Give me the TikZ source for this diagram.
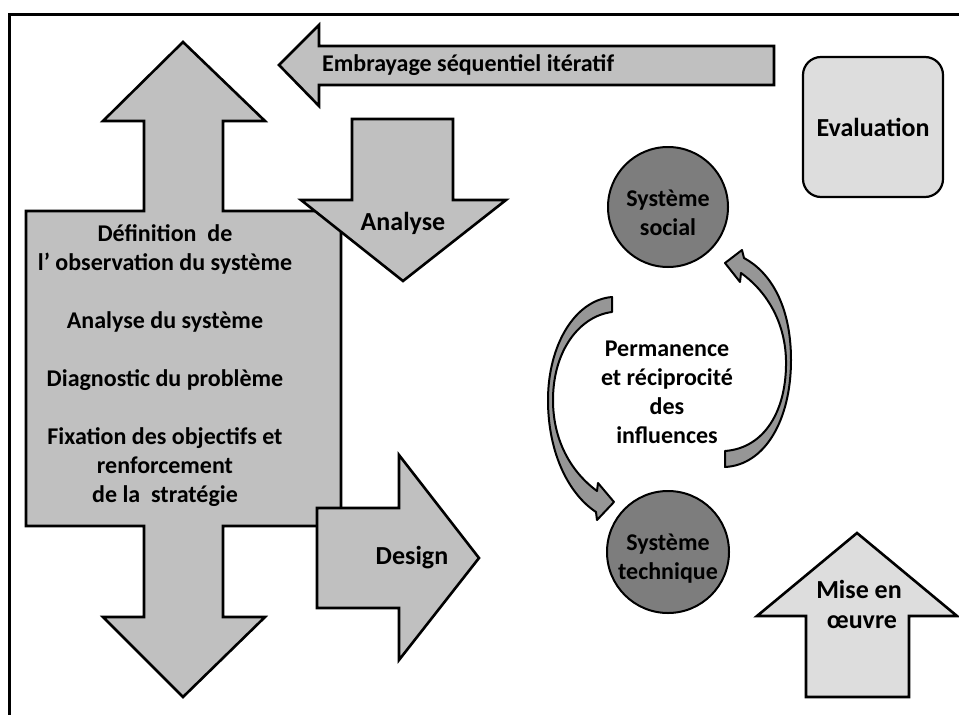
\documentclass[tikz,border=0pt]{standalone}
\usepackage{fontspec}
\setmainfont{Carlito}
\definecolor{midgray}{RGB}{192,192,192}
\definecolor{lightgray2}{RGB}{221,221,221}
\definecolor{darkgray2}{RGB}{125,125,125}
\definecolor{curvegray}{RGB}{150,150,150}
\tikzset{
  shp/.style={draw=black, line width=2.6pt, line join=miter, fill=midgray},
  lightshp/.style={shp, fill=lightgray2},
  circshp/.style={draw=black, line width=2pt, fill=darkgray2},
  curveshp/.style={draw=black, line width=2pt, line join=round, fill=curvegray},
  lbl/.style={font=\bfseries\fontsize{24}{29}\selectfont, align=center, inner sep=0pt, text=black},
  biglbl/.style={lbl, font=\bfseries\fontsize{26}{30}\selectfont},
}
\begin{document}
\begin{tikzpicture}[x=1pt,y=-1pt]
\useasboundingbox (0,0) rectangle (959,715);
\fill[white] (0,0) rectangle (959,715);
% frame (only top and left visible)
\draw[line width=3pt] (9.5,715) -- (9.5,14) -- (959,14);

% big vertical double arrow with box
\draw[shp] (183,42) -- (265,121) -- (223,121) -- (223,211) -- (341,211) -- (341,526)
  -- (223,526) -- (223,617) -- (265,617) -- (183,697) -- (103,617) -- (144,617)
  -- (144,526) -- (26,526) -- (26,211) -- (144,211) -- (144,121) -- (103,121) -- cycle;

% Embrayage arrow
\draw[shp] (279,65) -- (319,25) -- (319,46) -- (774,46) -- (774,85) -- (319,85) -- (319,106) -- cycle;

% Analyse arrow
\draw[shp] (352,119) -- (453,119) -- (453,200) -- (506,200) -- (403,281) -- (301,200) -- (352,200) -- cycle;

% Design arrow
\draw[shp] (317,508) -- (399,508) -- (399,455) -- (479,558) -- (399,660) -- (399,608) -- (317,608) -- cycle;

% Evaluation box
\draw[lightshp, line width=2.2pt, rounded corners=18pt] (803,57) rectangle (943,197);

% Mise en oeuvre arrow
\draw[lightshp] (857,533) -- (957,616) -- (909,616) -- (909,697) -- (806,697) -- (806,616) -- (757,616) -- cycle;

% circles
\node[circle, circshp, minimum size=120pt] (social) at (668,207) {};
\node[circle, circshp, minimum size=122pt] (tech) at (668,552) {};

% curved arrows
\draw[curveshp] (612,297) .. controls (575,300) and (548,345) .. (548,400)
  .. controls (548,455) and (570,495) .. (596,512)
  -- (597,520) -- (614,502) -- (598,483) -- (597,491)
  .. controls (575,475) and (553,445) .. (553,400)
  .. controls (553,350) and (580,316) .. (612,312) -- cycle;
\draw[curveshp] (725,467) .. controls (765,465) and (791,420) .. (791,360)
  .. controls (791,305) and (770,272) .. (744,258)
  -- (742,250) -- (725,263) -- (740,282) -- (741,273)
  .. controls (765,290) and (785,320) .. (786,360)
  .. controls (787,410) and (765,448) .. (725,451) -- cycle;

% texts
\node[lbl] (boxtxt) at (165,366) {D\'efinition\ \ de\\ l’ observation du syst\`eme\\[29pt]
  Analyse du syst\`eme\\[29pt] Diagnostic du probl\`eme\\[29pt]
  Fixation des objectifs et\\ renforcement\\ de la\ \ strat\'egie};
\node[lbl, anchor=west] (embr) at (322,65) {Embrayage s\'equentiel it\'eratif};
\node[biglbl] (analyse) at (403,223) {Analyse};
\node[biglbl] (design) at (412,558) {Design};
\node[biglbl] (evaluation) at (873,127) {Evaluation};
\node[lbl] (socialtxt) at (668,213) {Syst\`eme\\ social};
\node[lbl] (techtxt) at (668,559) {Syst\`eme\\ technique};
\node[lbl] (perm) at (667,392) {Permanence\\ et r\'eciprocit\'e\\ des\\ influences};
\node[biglbl] (mise) at (859,604) {Mise en\\ \ œuvre};
\end{tikzpicture}
\end{document}
